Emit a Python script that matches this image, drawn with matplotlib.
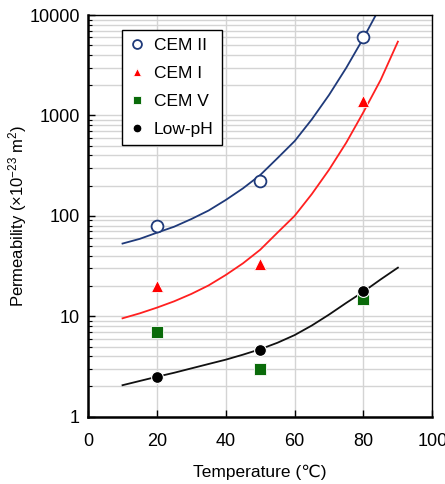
import numpy as np
import matplotlib.pyplot as plt

plt.rcParams['font.family'] = ['Liberation Sans', 'DejaVu Sans']
plt.rcParams['mathtext.fontset'] = 'custom'
plt.rcParams['mathtext.rm'] = 'Liberation Sans'
plt.rcParams['mathtext.it'] = 'Liberation Sans:italic'
plt.rcParams['mathtext.bf'] = 'Liberation Sans:bold'

# measured points
temps = [20, 50, 80]
cem2 = [80, 220, 6000]
cem1 = [20, 33, 1380]
cem5 = [7, 3, 15]
lowph = [2.5, 4.6, 18]

# fitted curves, every 5 degrees
fit_t2 = [10, 15, 20, 25, 30, 35, 40, 45, 50, 55, 60, 65, 70, 75, 80, 83.6]
fit_cem2 = [53, 59, 68, 78, 93, 113, 144, 188, 255, 375, 555, 915, 1600, 2980, 5900, 10000]
fit_t = [10, 15, 20, 25, 30, 35, 40, 45, 50, 55, 60, 65, 70, 75, 80, 85, 90]
fit_cem1 = [9.55, 10.7, 12.2, 14.1, 16.7, 20.3, 25.8, 33.7, 46, 68, 100, 165, 288, 536, 1080, 2260, 5430]
fit_lowph = [2.06, 2.27, 2.5, 2.74, 3.03, 3.35, 3.7, 4.15, 4.7, 5.45, 6.5, 8.1, 10.4, 13.6, 17.6, 23.3, 30.5]

fig = plt.figure(figsize=(4.45, 4.84), dpi=100)
ax = fig.add_axes([0.198, 0.139, 0.7735, 0.83])

ax.set_yscale('log')
ax.set_xlim(0, 100)
ax.set_ylim(1, 10000)

ax.grid(True, which='major', color='#d4d4d4', lw=1.0)
ax.grid(True, which='minor', axis='y', color='#d4d4d4', lw=1.0)
ax.set_axisbelow(True)

ax.plot(fit_t2, fit_cem2, color='#1f3a7a', lw=1.3)
ax.plot(fit_t, fit_cem1, color='#ff2020', lw=1.3)
ax.plot(fit_t, fit_lowph, color='#111111', lw=1.3)

ax.plot(temps, cem2, 'o', ms=8.5, mfc='white', mec='#1f3a7a', mew=1.3, ls='none', label='CEM II')
ax.plot(temps, cem1, '^', ms=8, color='#ff0000', mec='white', mew=0.6, ls='none', label='CEM I')
ax.plot(temps, cem5, 's', ms=8, color='#0a6b0a', mec='white', mew=0.6, ls='none', label='CEM V')
ax.plot(temps, lowph, 'o', ms=8.5, color='black', mec='white', mew=0.8, ls='none', label='Low-pH')

ax.set_xticks([0, 20, 40, 60, 80, 100])
ax.set_yticks([1, 10, 100, 1000, 10000])
ax.set_yticklabels(['1', '10', '100', '1000', '10000'])
ax.tick_params(which='both', direction='in', labelsize=13, top=False, right=False)
ax.tick_params(which='major', length=5, width=1)
ax.tick_params(which='minor', length=3, width=0.8)
ax.tick_params(axis='x', pad=12)
ax.tick_params(axis='y', pad=6)

for side in ['left', 'bottom']:
    ax.spines[side].set_linewidth(1.8)
for side in ['top', 'right']:
    ax.spines[side].set_linewidth(1.0)

ax.set_xlabel('Temperature (\u2103)', fontsize=12.5, labelpad=10)
ax.set_ylabel('Permeability (\u00d710$^{-23}$ m$^2$)', fontsize=12)
ax.yaxis.set_label_coords(-0.172, 0.5)

leg = ax.legend(loc='upper left', bbox_to_anchor=(0.098, 0.963), fontsize=12.5,
                frameon=True, fancybox=False, edgecolor='black', framealpha=1,
                handlelength=0.9, handletextpad=0.5, labelspacing=0.75,
                borderpad=0.45, borderaxespad=0, markerscale=0.75)
leg.get_frame().set_linewidth(1.0)

fig.savefig('out.png', dpi=100)
